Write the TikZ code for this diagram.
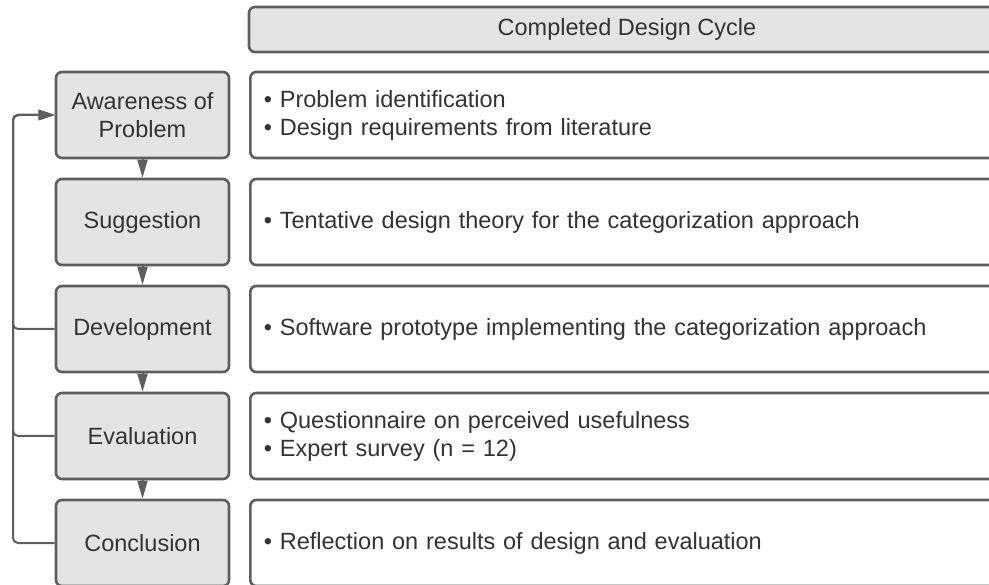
\documentclass[tikz,border=0pt]{standalone}
\usepackage{fontspec}
\setmainfont{Liberation Sans}
\usetikzlibrary{arrows.meta}

\definecolor{boxfill}{HTML}{E4E4E4}
\definecolor{boxline}{HTML}{5E5E5E}
\definecolor{inktext}{HTML}{333333}

\tikzset{
  txt/.style={font=\fontsize{23.5}{28}\selectfont, text=inktext},
  phasebox/.style={txt, draw=boxline, fill=boxfill, line width=2.6pt,
    rounded corners=6pt, minimum width=173pt, minimum height=86pt,
    align=center, inner sep=0pt},
  headbox/.style={txt, draw=boxline, fill=boxfill, line width=2.6pt,
    rounded corners=6pt, minimum width=756pt, minimum height=45pt,
    inner sep=0pt},
  itembox/.style={txt, draw=boxline, fill=white, line width=2.6pt,
    rounded corners=6pt, minimum height=86pt, text width=729pt,
    inner xsep=13.5pt, inner ysep=0pt, align=left, anchor=west},
  stepline/.style={draw=boxline, line width=2pt,
    -{Triangle[length=18pt,width=10pt]}},
  backline/.style={draw=boxline, line width=2pt, rounded corners=5pt,
    -{Triangle[length=16pt,width=10pt]}}
}

\begin{document}
\begin{tikzpicture}[x=1pt, y=-1pt]
  \useasboundingbox (0,0) rectangle (989,585);
  \clip (0,0) rectangle (989,585);

  % header
  \node[headbox] (head) at (627,29.5) {Completed Design Cycle};

  % phases of the cycle
  \node[phasebox] (aw) at (142.5,115) {Awareness of\\Problem};
  \node[phasebox] (sg) at (142.5,222) {Suggestion};
  \node[phasebox] (dv) at (142.5,329) {Development};
  \node[phasebox] (ev) at (142.5,436) {Evaluation};
  \node[phasebox] (cl) at (142.5,543) {Conclusion};

  % outcomes per phase
  \node[itembox] (awi) at (249,115) {\textbullet{} Problem identification\\\textbullet{} Design requirements from literature};
  \node[itembox] (sgi) at (249,222) {\textbullet{} Tentative design theory for the categorization approach};
  \node[itembox] (dvi) at (249,329) {\textbullet{} Software prototype implementing the categorization approach};
  \node[itembox] (evi) at (249,436) {\textbullet{} Questionnaire on perceived usefulness\\\textbullet{} Expert survey (n = 12)};
  \node[itembox] (cli) at (249,543) {\textbullet{} Reflection on results of design and evaluation};

  % forward flow
  \draw[stepline] (aw) -- (sg);
  \draw[stepline] (sg) -- (dv);
  \draw[stepline] (dv) -- (ev);
  \draw[stepline] (ev) -- (cl);

  % iterations back to awareness
  \coordinate (rail) at (13,0);
  \draw[backline] (dv.west) -- (dv.west -| rail) |- (aw.west);
  \draw[backline] (ev.west) -- (ev.west -| rail) |- (aw.west);
  \draw[backline] (cl.west) -- (cl.west -| rail) |- (aw.west);
\end{tikzpicture}
\end{document}
